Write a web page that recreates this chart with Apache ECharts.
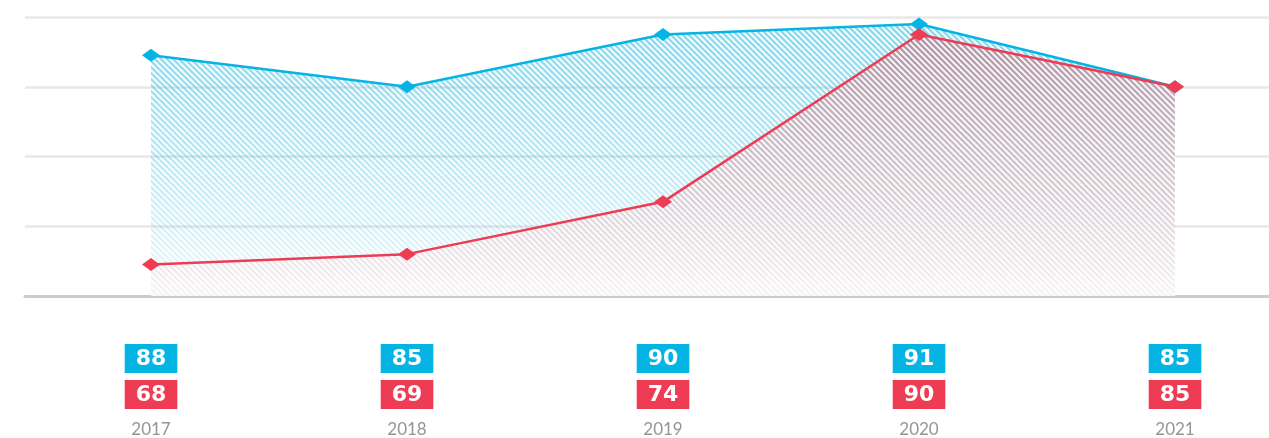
<!DOCTYPE html>
<html>
<head>
<meta charset="utf-8">
<script src="https://cdn.jsdelivr.net/npm/echarts@6/dist/echarts.min.js"></script>
<style>
  html, body { margin: 0; padding: 0; background: #fff; }
  #chart { width: 1269px; height: 438px; }
</style>
</head>
<body>
<div id="chart"></div>
<script>
var years = ['2017', '2018', '2019', '2020', '2021'];
var blueValues = [88, 85, 90, 91, 85];
var redValues = [68, 69, 74, 90, 85];

var BLUE = '#06b4e4';
var RED = '#ee3c55';

// diagonal stripes, fading toward the bottom of the plot
function stripePattern(rgb, aTop, aBottom, bg) {
  var c = document.createElement('canvas');
  c.width = 60;
  c.height = 438;
  var ctx = c.getContext('2d');
  ctx.strokeStyle = 'rgb(' + rgb + ')';
  ctx.lineWidth = 2.4;
  for (var x0 = -450; x0 <= 70; x0 += 6) {
    ctx.beginPath();
    ctx.moveTo(x0, 0);
    ctx.lineTo(x0 + 438, 438);
    ctx.stroke();
  }
  ctx.globalCompositeOperation = 'destination-in';
  var g = ctx.createLinearGradient(0, 17, 0, 296);
  g.addColorStop(0, 'rgba(0,0,0,' + aTop + ')');
  g.addColorStop(1, 'rgba(0,0,0,' + aBottom + ')');
  ctx.fillStyle = g;
  ctx.fillRect(0, 0, 60, 438);
  if (bg) {
    ctx.globalCompositeOperation = 'destination-over';
    ctx.fillStyle = bg;
    ctx.fillRect(0, 0, 60, 438);
  }
  return { image: c, repeat: 'repeat' };
}

var myChart = echarts.init(document.getElementById('chart'));

function boxLabel(color, values, margin) {
  return {
    show: true,
    interval: 0,
    margin: margin,
    verticalAlign: 'top',
    color: '#fff',
    fontFamily: 'DejaVu Sans',
    fontWeight: 'bold',
    fontSize: 22,
    lineHeight: 22,
    backgroundColor: color,
    padding: [4, 11, 3, 11],
    formatter: function (v, i) { return String(values[i]); }
  };
}

var hidden = { show: false };

var option = {
  animation: false,
  grid: [
    { left: 25, right: 0, top: 17, bottom: 142 },
    { left: 151, right: 94, top: 17, bottom: 142 }
  ],
  xAxis: [
    {
      gridIndex: 0, type: 'value', min: 0, max: 1, position: 'bottom',
      axisLine: { show: true, lineStyle: { color: '#cccccc', width: 3 } },
      axisTick: hidden, axisLabel: hidden, splitLine: hidden
    },
    {
      gridIndex: 1, type: 'category', data: years, boundaryGap: false, position: 'bottom',
      axisLine: hidden, axisTick: hidden,
      axisLabel: boxLabel(BLUE, blueValues, 48)
    },
    {
      gridIndex: 1, type: 'category', data: years, boundaryGap: false, position: 'bottom',
      axisLine: hidden, axisTick: hidden,
      axisLabel: boxLabel(RED, redValues, 84)
    },
    {
      gridIndex: 1, type: 'category', data: years, boundaryGap: false, position: 'bottom',
      axisLine: hidden, axisTick: hidden,
      axisLabel: {
        interval: 0, margin: 125, verticalAlign: 'top',
        color: '#959595', fontFamily: 'Lato', fontSize: 17
      }
    }
  ],
  yAxis: [
    {
      gridIndex: 0, type: 'value', min: 0, max: 4, interval: 1,
      axisLine: hidden, axisTick: hidden, axisLabel: hidden,
      splitLine: { show: true, lineStyle: { color: '#e8e8e8', width: 2.5 } }
    },
    {
      gridIndex: 1, type: 'value', min: 65, max: 65 + 80 / 3, interval: 5 / 3,
      axisLine: hidden, axisTick: hidden, axisLabel: hidden, splitLine: hidden
    }
  ],
  series: [
    {
      type: 'line',
      xAxisIndex: 1, yAxisIndex: 1,
      data: blueValues,
      symbol: 'diamond', symbolSize: [18, 13], showAllSymbol: true,
      lineStyle: { color: BLUE, width: 2.5 },
      itemStyle: { color: BLUE },
      areaStyle: { color: stripePattern('0,180,228', 0.5, 0.06), opacity: 1 }
    },
    {
      type: 'line',
      xAxisIndex: 1, yAxisIndex: 1,
      data: redValues,
      symbol: 'diamond', symbolSize: [18, 13], showAllSymbol: true,
      lineStyle: { color: RED, width: 2.5 },
      itemStyle: { color: RED },
      areaStyle: { color: stripePattern('140,90,115', 0.68, 0.06, 'rgba(255,255,255,0.9)'), opacity: 1 }
    }
  ]
};
myChart.setOption(option);
window.addEventListener('resize', function () { myChart.resize(); });
</script>
</body>
</html>
